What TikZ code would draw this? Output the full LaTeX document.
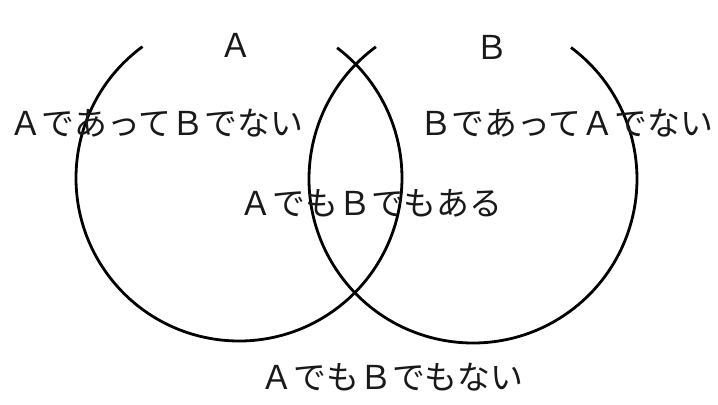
\documentclass[tikz,border=0pt]{standalone}
\usepackage{fontspec}
\newfontfamily\jpfont{Noto Sans CJK JP}
\begin{document}
\begin{tikzpicture}[x=1bp,y=1bp,
  lbl/.style={font=\jpfont\fontsize{33}{33}\selectfont, inner sep=0pt, text=black!90},
  ring/.style={line width=2.8bp, black}]
\useasboundingbox[fill=white] (0,0) rectangle (718,404);
\coordinate (lc) at (239,226);
\coordinate (rc) at (473,225);
\draw[ring] ([shift={(126.3:163)}]lc) arc[start angle=126.3, end angle=413, radius=163];
\draw[ring] ([shift={(126.3:164)}]rc) arc[start angle=126.3, end angle=413.3, radius=164];
\node[lbl] (la) at (236,359) {Ａ};
\node[lbl] (lb) at (492,357) {Ｂ};
\node[lbl] (t1) at (156,281) {ＡであってＢでない};
\node[lbl] (t2) at (566,281) {ＢであってＡでない};
\node[lbl] (t3) at (371,201) {ＡでもＢでもある};
\node[lbl] (t4) at (392,27) {ＡでもＢでもない};
\end{tikzpicture}
\end{document}
